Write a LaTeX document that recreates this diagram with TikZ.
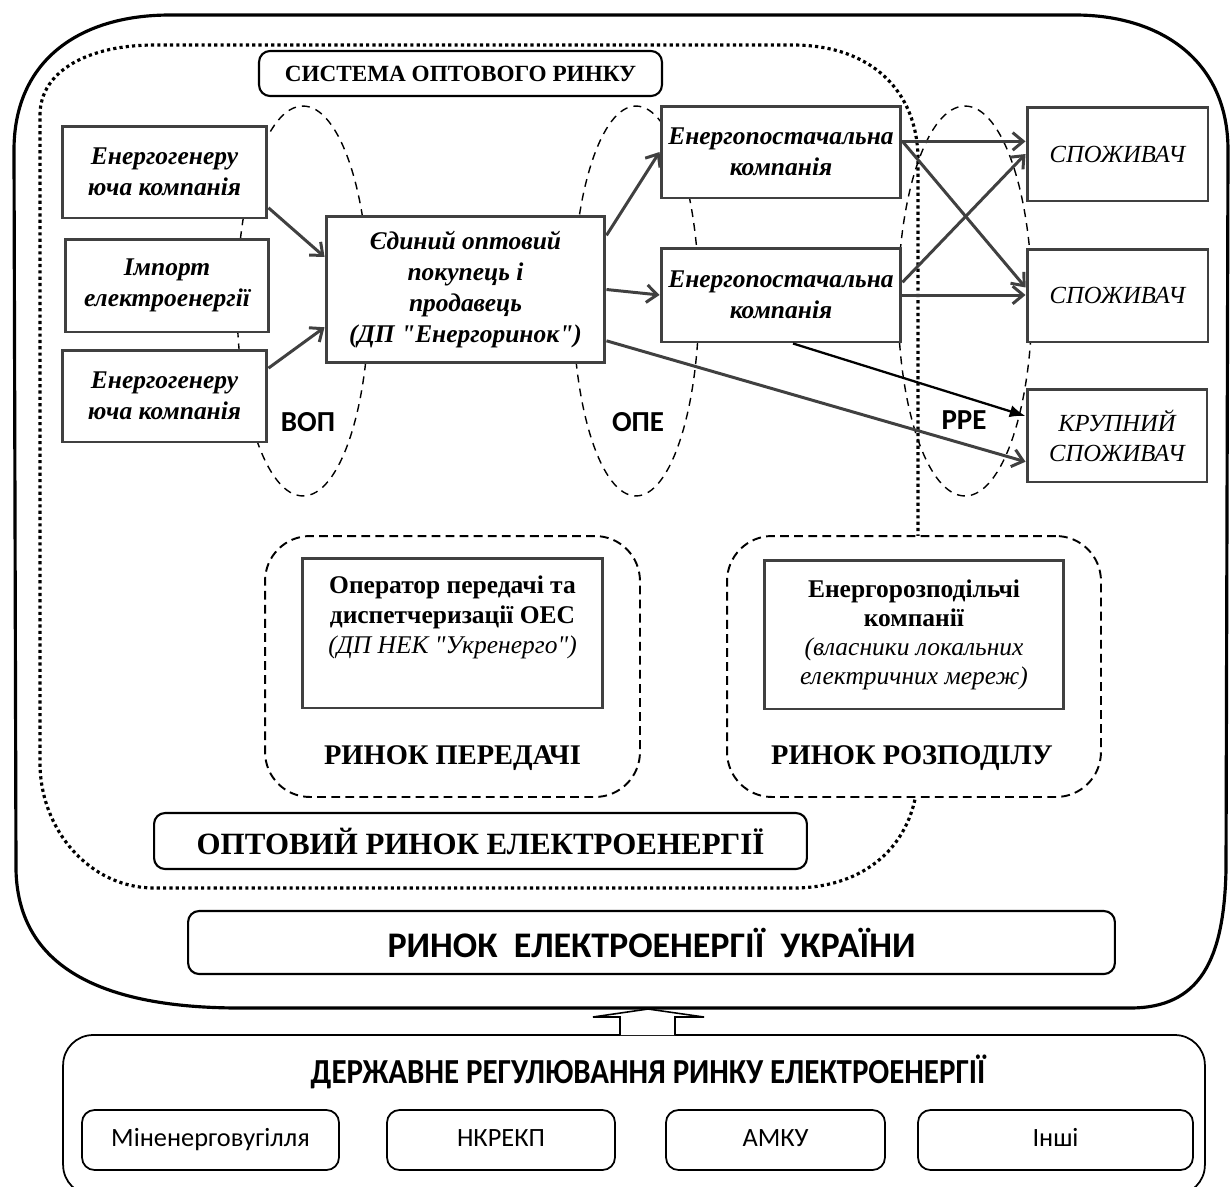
\documentclass[tikz,border=0pt]{standalone}
\usepackage{fontspec}
\setmainfont{Liberation Serif}
\newfontfamily\calib{Carlito}
\font\qbi="Liberation Serif Bold Italic" at 14.5pt
\font\qit="Liberation Serif Italic" at 14.5pt
\newcommand\dqbi{{\qbi"}}
\newcommand\dqit{{\qit"}}
\usetikzlibrary{arrows.meta,shapes.geometric}
\tikzset{>={Straight Barb[length=6pt,width=10pt]}}
\tikzset{
  firm/.style={draw=black!75, line width=1.7pt, fill=white, align=center, inner sep=1pt, font=\fontsize{14.5}{17.5}\selectfont\bfseries\itshape},
  buyer/.style={firm, font=\fontsize{14}{17}\selectfont\itshape},
  zone/.style={ellipse, draw, dash pattern=on 4.5pt off 3.5pt, line width=0.8pt, inner sep=0pt, minimum height=7.8cm},
  zonetag/.style={font=\calib\bfseries\fontsize{16.5}{19}\selectfont},
  market/.style={draw, line width=1.1pt, dash pattern=on 5pt off 3pt, rounded corners=0.9cm, fill=white, minimum height=5.22cm},
  banner/.style={draw, line width=1.2pt, rounded corners=0.22cm, fill=white, align=center},
  flow/.style={->, draw=black!75, line width=1.7pt},
  dotframe/.style={line width=1.8pt, dash pattern=on 1.8pt off 1.8pt},
  agency/.style={draw, line width=1pt, rounded corners=0.25cm, minimum height=1.2cm, text height=10pt, text depth=3pt, font=\calib\fontsize{15}{18}\selectfont},
}
\begin{document}
\begin{tikzpicture}[x=0.02cm,y=-0.02cm]
    \useasboundingbox (0,0) rectangle (1231,1187);
    \draw[line width=1.8pt] (14,150) .. controls (14,60) and (80,15) .. (170,15) -- (1075,15) .. controls (1160,15) and (1228,60) .. (1228,150) -- (1226,870) .. controls (1224,960) and (1200,1008) .. (1130,1008) -- (240,1008) .. controls (90,1008) and (18,960) .. (16,870) -- cycle;
    \draw[dotframe] (40,115) .. controls (40,70) and (90,45) .. (154,45) -- (793,45) .. controls (870,45) and (918,90) .. (918,160) -- (918,770) .. controls (918,840) and (870,888) .. (793,888) -- (154,888) .. controls (90,888) and (40,830) .. (40,763) -- cycle;

    \foreach \n/\cx/\w in {vop/303/2.64, ope/636/2.52, rre/965/2.68}
        \node[zone, minimum width=\w cm] (\n) at (\cx,301) {};
    \node[zonetag] (voptag) at (308,422) {ВОП};
    \node[zonetag] (opetag) at (638,422) {ОПЕ};
    \node[zonetag] (rretag) at (964,420) {РРЕ};

    \node[banner, minimum width=8.06cm, minimum height=0.9cm, font=\bfseries\fontsize{13.2}{16}\selectfont] (sys) at (460.5,73.5) {СИСТЕМА ОПТОВОГО РИНКУ};

    \node[firm, minimum width=4.1cm, minimum height=1.84cm] (gen1) at (164.5,172) {Енергогенеру\\юча компанія};
    \node[firm, minimum width=4.08cm, minimum height=1.86cm] (imp) at (167,285.5) {Імпорт\\електроенергії};
    \node[firm, minimum width=4.1cm, minimum height=1.84cm] (gen2) at (164.5,396) {Енергогенеру\\юча компанія};
    \node[firm, minimum width=5.58cm, minimum height=2.94cm] (single) at (465.5,289.5) {Єдиний оптовий\\покупець і\\продавець\\(ДП \dqbi Енергоринок\dqbi)};
    \node[firm, minimum width=4.8cm, minimum height=1.84cm] (sup1) at (781,152) {Енергопостачальна\\компанія};
    \node[firm, minimum width=4.8cm, minimum height=1.88cm] (sup2) at (781,295) {Енергопостачальна\\компанія};
    \node[buyer, minimum width=3.62cm, minimum height=1.88cm] (cons1) at (1117.5,154) {СПОЖИВАЧ};
    \node[buyer, minimum width=3.62cm, minimum height=1.86cm] (cons2) at (1117.5,295.5) {СПОЖИВАЧ};
    \node[buyer, minimum width=3.6cm, minimum height=1.86cm] (big) at (1117,435.5) {КРУПНИЙ\\СПОЖИВАЧ};

    \draw[flow] (gen1.-19) -- (single.167);
    \draw[flow] (gen2.15) -- (single.195);
    \draw[flow] (single.21) -- (sup1.west);
    \draw[flow] (single.east) -- (sup2.west);
    \draw[flow] (single.-20) -- (big.196);
    \draw[flow] (sup1.5) -- (sup1.5 -| cons1.west);
    \draw[flow] (sup1.5) -- (cons2.175);
    \draw[flow] (sup2.6) -- (cons1.west);
    \draw[flow] (sup2.east) -- (sup2.east -| cons2.west);
    \draw[->, >={Latex[length=9pt,width=7pt]}, line width=1.3pt] ([xshift=0.24cm]sup2.south) -- (big.168);

    \node[market, minimum width=7.5cm] (trans) at (452.5,666.5) {};
    \node[market, minimum width=7.48cm] (distrib) at (914,666.5) {};
    \node[firm, minimum width=6.02cm, minimum height=3cm] (oper) at (452.5,633) {};
    \node[align=center, font=\fontsize{14.5}{17}\selectfont] (opertxt) at (452.5,617) {\textbf{Оператор передачі та}\\\textbf{диспетчеризації ОЕС}\\\textit{(ДП НЕК \dqit Укренерго\dqit)}};
    \node[firm, minimum width=6cm, minimum height=2.98cm, font=\fontsize{14.5}{16.5}\selectfont] (distr) at (914,634.5) {\textbf{Енергорозподільчі}\\\textbf{компанії}\\\textit{(власники локальних}\\\textit{електричних мереж)}};
    \node[font=\bfseries\fontsize{16.2}{18}\selectfont] (translbl) at (452.5,758) {РИНОК ПЕРЕДАЧІ};
    \node[font=\bfseries\fontsize{16.2}{18}\selectfont] (distlbl) at (912,758) {РИНОК РОЗПОДІЛУ};

    \node[banner, minimum width=13.06cm, minimum height=1.12cm, font=\bfseries\fontsize{17.6}{20}\selectfont] (wholesale) at (480.5,841) {ОПТОВИЙ РИНОК ЕЛЕКТРОЕНЕРГІЇ};
    \node[banner, minimum width=18.54cm, minimum height=1.26cm, font=\calib\bfseries\fontsize{20.5}{24}\selectfont] (ukraine) at (651.5,942.5) {РИНОК\ \ ЕЛЕКТРОЕНЕРГІЇ\ \ УКРАЇНИ};

    \node[banner, rounded corners=0.6cm, line width=1pt, minimum width=22.84cm, minimum height=3.2cm] (reg) at (634,1115) {};
    \node[font=\calib\bfseries\fontsize{20}{22}\selectfont] (regtxt) at (648,1072) {\scalebox{0.88}[1]{ДЕРЖАВНЕ РЕГУЛЮВАННЯ РИНКУ ЕЛЕКТРОЕНЕРГІЇ}};
    \foreach \n/\cx/\w/\t in {mine/210.5/5.14/Міненерговугілля, nkr/501/4.56/НКРЕКП, amku/775.5/4.38/АМКУ, other/1055.5/5.5/Інші}
        \node[agency, minimum width=\w cm] (\n) at (\cx,1140) {\t};

    \draw[line width=0.9pt, fill=white] (620,1035) -- (620,1017) -- (593,1017) -- (648,1009) -- (704,1017) -- (675,1017) -- (675,1035);
\end{tikzpicture}
\end{document}
